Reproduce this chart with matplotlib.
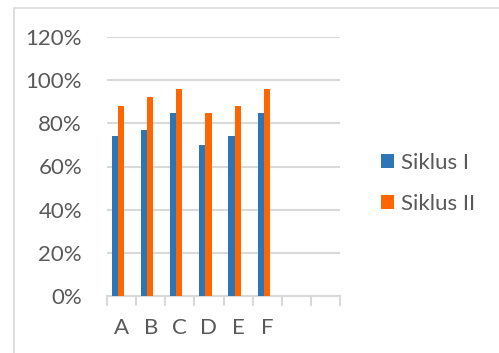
import matplotlib
matplotlib.use("Agg")
import matplotlib.pyplot as plt
from matplotlib.patches import Rectangle
from matplotlib.ticker import PercentFormatter

categories = ["A", "B", "C", "D", "E", "F", "", ""]
siklus_1 = [74, 77, 85, 70, 74, 85]
siklus_2 = [88, 92, 96, 85, 88, 96]
series_names = ["Siklus I", "Siklus II"]
y_ticks = [0, 20, 40, 60, 80, 100, 120]

blue = "#2E75B6"
orange = "#FF6600"
grid_c = "#D9D9D9"
text_c = "#595959"

plt.rcParams["font.family"] = ["Lato", "DejaVu Sans"]

fig = plt.figure(figsize=(4.99, 3.53), dpi=100)
fig.patch.set_facecolor("white")

# outer chart frame
fig.patches.append(Rectangle((14 / 499, -0.05), 1.2, (353 - 8) / 353 + 0.05,
                             transform=fig.transFigure, fill=False,
                             edgecolor="#D9D9D9", linewidth=1.2))

ax = fig.add_axes([107 / 499, (353 - 296) / 353, 233 / 499, 259 / 353])
n = len(categories)
w = 0.21
idx = list(range(len(siklus_1)))
ax.bar([i - 0.33 for i in idx], siklus_1, width=w, align="edge", color=blue,
       label=series_names[0], zorder=3)
ax.bar([i - 0.12 for i in idx], siklus_2, width=w, align="edge", color=orange,
       label=series_names[1], zorder=3)

ax.set_xlim(-0.5, n - 0.5)
ax.set_ylim(0, 120)
ax.set_yticks(y_ticks)
ax.yaxis.set_major_formatter(PercentFormatter(decimals=0))
ax.yaxis.grid(True, color=grid_c, linewidth=1.5, zorder=0)
ax.set_axisbelow(True)

for s in ["top", "right", "left"]:
    ax.spines[s].set_visible(False)
ax.spines["bottom"].set_color(grid_c)
ax.spines["bottom"].set_linewidth(1.5)

fs = 16
ax.set_xticks(range(n))
ax.set_xticklabels(categories)
ax.set_xticks([i - 0.5 for i in range(n + 1)], minor=True)
ax.tick_params(axis="x", which="major", length=0, pad=16, labelsize=fs,
               labelcolor=text_c)
ax.tick_params(axis="x", which="minor", length=7, width=1.5, color=grid_c)
ax.tick_params(axis="y", length=0, pad=18, labelsize=fs, labelcolor=text_c)

leg = ax.legend(loc="center left", bbox_to_anchor=(1.175, 0.436), frameon=False,
                fontsize=fs, labelcolor=text_c, handlelength=0.6,
                handleheight=0.6, handletextpad=0.3, labelspacing=0.95,
                borderaxespad=0, borderpad=0)

fig.savefig("out.png", dpi=100, facecolor="white")
